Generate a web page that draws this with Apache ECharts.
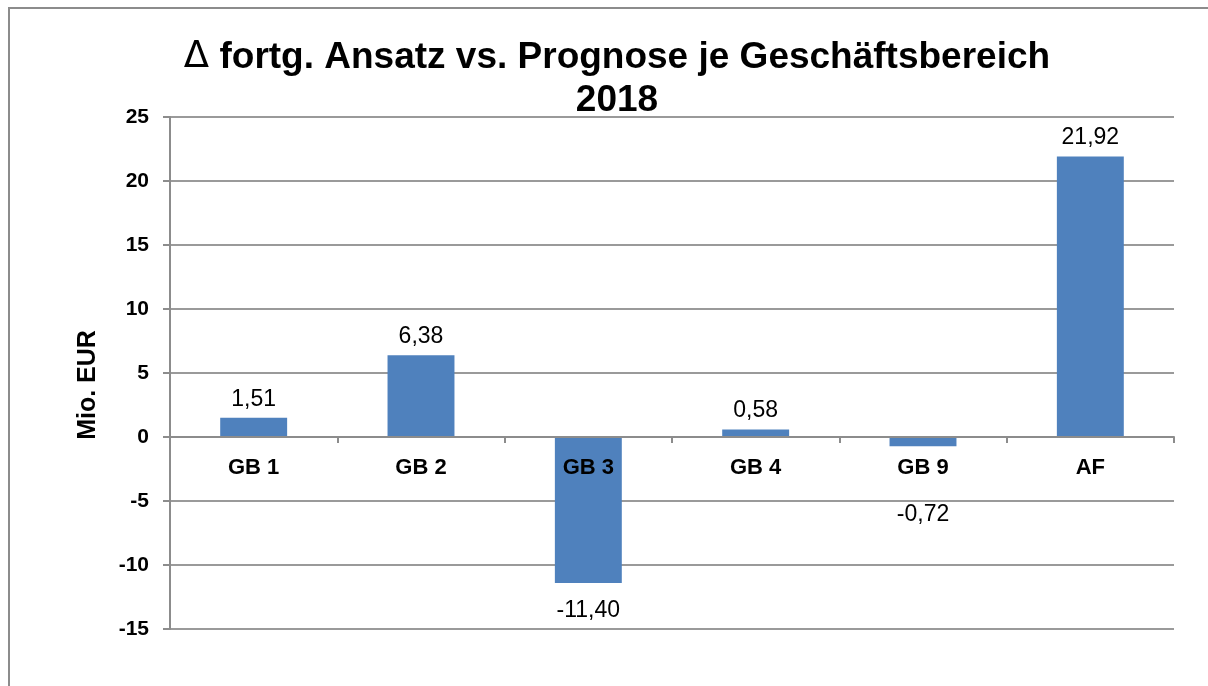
<!DOCTYPE html>
<html>
<head>
<meta charset="utf-8">
<script src="https://cdn.jsdelivr.net/npm/echarts@6/dist/echarts.min.js"></script>
<style>
html,body{margin:0;padding:0;background:#fff;}
#chart{width:1208px;height:686px;}
</style>
</head>
<body>
<div id="chart"></div>
<script>
var categories = ['GB 1', 'GB 2', 'GB 3', 'GB 4', 'GB 9', 'AF'];
var values = [1.51, 6.38, -11.40, 0.58, -0.72, 21.92];
var yTicks = { min: -15, max: 25, interval: 5 };
var titleText = '{d|\u0394} fortg. Ansatz vs. Prognose je Gesch\u00e4ftsbereich\n2018';
var yAxisName = 'Mio. EUR';

// label placement tweaks (style only)
var labelDistanceOverride = { 'GB 9': 57 };

var font = '"Liberation Sans", Arial, sans-serif';
var gridTop = 117, gridBottom = 57, chartH = 686;
var gridHeight = chartH - gridTop - gridBottom;
// move category axis up to the zero line
var zeroOffset = -gridHeight * (0 - yTicks.min) / (yTicks.max - yTicks.min);

var chart = echarts.init(document.getElementById('chart'), null, { renderer: 'canvas' });

var seriesData = values.map(function (v, i) {
  var neg = v < 0;
  var d = labelDistanceOverride[categories[i]];
  return {
    value: v,
    label: {
      position: neg ? 'bottom' : 'top',
      distance: d != null ? d : (neg ? 16 : 7)
    }
  };
});

chart.setOption({
  animation: false,
  backgroundColor: '#ffffff',
  graphic: [{
    type: 'rect',
    shape: { x: 9, y: 8, width: 1400, height: 900 },
    style: { fill: 'none', stroke: '#8c8c8c', lineWidth: 2 },
    silent: true
  }, {
    type: 'text',
    x: 88, y: 385,
    rotation: Math.PI / 2,
    style: {
      text: yAxisName,
      fontFamily: font, fontWeight: 'bold', fontSize: 25, fill: '#000',
      align: 'center', verticalAlign: 'middle'
    },
    silent: true
  }],
  title: {
    text: titleText,
    left: 612,
    top: 31,
    textAlign: 'center',
    textStyle: {
      fontFamily: font, fontWeight: 'bold', fontSize: 37, color: '#000', lineHeight: 43,
      rich: {
        d: { fontFamily: '"DejaVu Sans", sans-serif', fontWeight: 'normal', fontSize: 37, color: '#000', lineHeight: 43 }
      }
    }
  },
  grid: { left: 170, right: 34, top: gridTop, bottom: gridBottom, containLabel: false },
  xAxis: {
    type: 'category',
    data: categories,
    offset: zeroOffset,
    z: 10,
    axisLine: { onZero: false, lineStyle: { color: '#8c8c8c', width: 2 } },
    axisTick: { show: true, length: 6, inside: false, lineStyle: { color: '#8c8c8c', width: 2 } },
    axisLabel: { fontFamily: font, fontWeight: 'bold', fontSize: 22, color: '#000', margin: 20, interval: 0 },
    splitLine: { show: false }
  },
  yAxis: {
    type: 'value',
    min: yTicks.min, max: yTicks.max, interval: yTicks.interval,
    axisLine: { show: true, lineStyle: { color: '#8c8c8c', width: 2 } },
    axisTick: { show: true, length: 7, inside: false, lineStyle: { color: '#8c8c8c', width: 2 } },
    axisLabel: { fontFamily: font, fontWeight: 'bold', fontSize: 21, color: '#000', margin: 21 },
    splitLine: { show: true, lineStyle: { color: '#9a9a9a', width: 2 } }
  },
  series: [{
    type: 'bar',
    data: seriesData,
    barWidth: '40%',
    itemStyle: { color: '#4f81bd' },
    label: {
      show: true,
      fontFamily: font, fontSize: 23, color: '#000',
      formatter: function (p) { return p.value.toFixed(2).replace('.', ','); }
    }
  }]
});
</script>
</body>
</html>
